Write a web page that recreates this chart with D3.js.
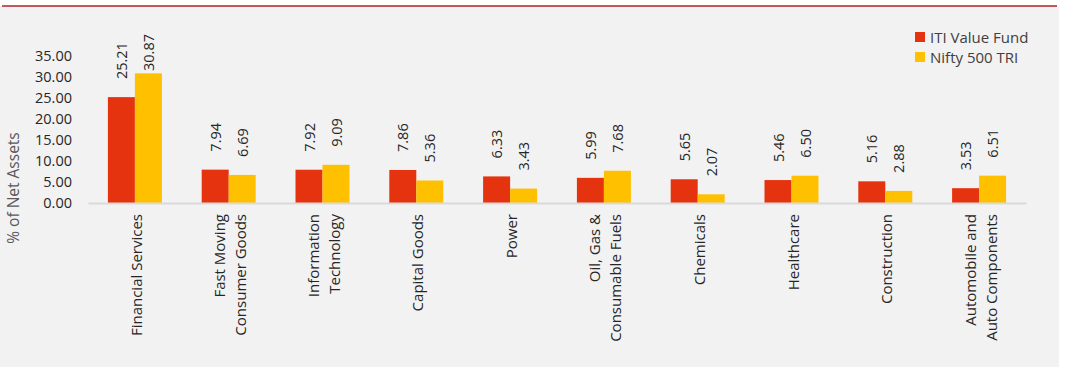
<!DOCTYPE html>
<html><head><meta charset="utf-8">
<script src="https://cdn.jsdelivr.net/npm/d3@7"></script>
<style>body{margin:0;background:#fff;}svg{display:block;font-family:"Open Sans",sans-serif;}</style>
</head><body><svg id="c" width="1065" height="378"></svg>
<script>
const categories = [["Financial Services"],["Fast Moving","Consumer Goods"],["Information","Technology"],["Capital Goods"],["Power"],["Oil, Gas &","Consumable Fuels"],["Chemicals"],["Healthcare"],["Construction"],["Automobile and","Auto Components"]];
const seriesNames = ["ITI Value Fund","Nifty 500 TRI"];
const fundValues = [25.21,7.94,7.92,7.86,6.33,5.99,5.65,5.46,5.16,3.53];
const indexValues = [30.87,6.69,9.09,5.36,3.43,7.68,2.07,6.50,2.88,6.51];
const yTicks = [0,5,10,15,20,25,30,35];
const colors = ["#e5330f","#ffc000"];

const svg = d3.select("#c");
svg.append("rect").attr("x",0).attr("y",6).attr("width",1059).attr("height",361).attr("fill","#f2f2f2");
svg.append("line").attr("x1",2).attr("x2",1057).attr("y1",6).attr("y2",6).attr("stroke","#b3202a").attr("stroke-width",1.5);

const x0 = d3.scaleBand().domain(d3.range(categories.length)).range([88,1026]).paddingInner(0).paddingOuter(0);
const inner = 54;
const x1 = d3.scaleBand().domain([0,1]).range([0,inner]);
const y = d3.scaleLinear().domain([0,35]).range([203,56]);

// y axis
const ya = svg.append("g").attr("transform","translate(72,0)")
  .call(d3.axisLeft(y).tickValues(yTicks).tickFormat(d3.format(".2f")).tickSize(0).tickPadding(0));
ya.select(".domain").remove();
ya.selectAll("text").attr("font-size",14.5).attr("fill","#262626").attr("font-family","Open Sans");

svg.append("text").attr("transform","translate(13,188) rotate(-90)").attr("text-anchor","middle")
  .attr("dominant-baseline","central").attr("font-size",15.5).attr("fill","#595959").text("% of Net Assets");

const data = categories.map((c,i)=>({i, vals:[fundValues[i],indexValues[i]]}));
const g = svg.append("g");
data.forEach(d=>{
  const gx = x0(d.i) + (x0.bandwidth()-inner)/2;
  d.vals.forEach((v,s)=>{
    const bx = gx + x1(s);
    g.append("rect").attr("x",bx).attr("y",y(v)).attr("width",x1.bandwidth()).attr("height",y(0)-y(v)).attr("fill",colors[s]);
    const label = v.toFixed(2);
    let ly = y(v) - 18;
    const approxLen = label.length*7.8;
    if (ly - approxLen < 32) ly = 32 + approxLen;
    g.append("text").attr("transform",`translate(${bx+x1.bandwidth()/2},${ly}) rotate(-90)`)
      .attr("dominant-baseline","central").attr("text-anchor","start").attr("font-size",14.5).attr("fill","#262626").text(label);
  });
});

// x axis
const xa = svg.append("g").attr("transform","translate(0,203)")
  .call(d3.axisBottom(x0).tickSize(0).tickFormat(""));
xa.select(".domain").attr("stroke","#d9d9d9").attr("stroke-width",2);

categories.forEach((lines,i)=>{
  const cx = x0(i)+x0.bandwidth()/2;
  const n = lines.length;
  lines.forEach((t,k)=>{
    const off = (k-(n-1)/2)*21;
    svg.append("text").attr("transform",`translate(${cx+off+1},214) rotate(-90)`)
      .attr("text-anchor","end").attr("dominant-baseline","central").attr("font-size",15).attr("fill","#262626").text(t);
  });
});

// legend
const lg = svg.append("g").attr("transform","translate(915,32)");
seriesNames.forEach((n,i)=>{
  lg.append("rect").attr("x",0).attr("y",i*20).attr("width",10).attr("height",10).attr("fill",colors[i]);
  lg.append("text").attr("x",15).attr("y",i*20+5).attr("dominant-baseline","central").attr("font-size",15).attr("fill","#404040").text(n);
});
</script></body></html>
